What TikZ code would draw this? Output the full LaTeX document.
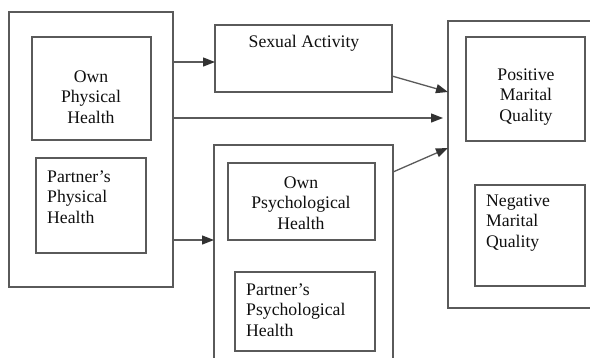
\documentclass[tikz,border=0pt]{standalone}
\usepackage{fontspec}
\setmainfont{Liberation Serif}
\usetikzlibrary{arrows.meta}
\definecolor{linegray}{RGB}{90,90,90}
\definecolor{tipgray}{RGB}{50,50,50}
\definecolor{txt}{RGB}{15,15,15}
\tikzset{
  box/.style={draw=linegray, line width=1.3pt, inner sep=0pt, outer sep=0pt, anchor=north west},
  lbl/.style={text=txt, inner sep=0pt, font=\fontsize{17.7}{20.5}\selectfont},
  arr/.style={draw=linegray, line width=1.3pt, -{Triangle[length=12pt,width=9pt,color=tipgray]}},
}
\begin{document}
\begin{tikzpicture}[x=1pt,y=-1pt]
\useasboundingbox (0,0) rectangle (590,357);
\clip (0,0) rectangle (590,357);
% left outer box
\node[box, minimum width=164pt, minimum height=275pt] (L) at (9,12) {};
\node[box, minimum width=119pt, minimum height=103pt] (oph) at (32,37) {};
\node[box, minimum width=110pt, minimum height=95pt] (pph) at (36,158) {};
\node[lbl, align=center] (ophT) at (91,97) {Own\\Physical\\Health};
\node[lbl, align=left, anchor=west] (pphT) at (47,197) {Partner’s\\Physical\\Health};
% sexual activity
\node[box, minimum width=177pt, minimum height=67pt] (SA) at (215,25) {};
\node[lbl] (saT) at (304,43) {Sexual Activity};
% psychological outer box
\node[box, minimum width=179pt, minimum height=240pt] (P) at (214,145) {};
\node[box, minimum width=147pt, minimum height=77pt] (ops) at (228,163) {};
\node[box, minimum width=140pt, minimum height=79pt] (pps) at (235,272) {};
\node[lbl, align=center] (opsT) at (301,203) {Own\\Psychological\\Health};
\node[lbl, align=left, anchor=west] (ppsT) at (246,310) {Partner’s\\Psychological\\Health};
% right outer box
\node[box, minimum width=160pt, minimum height=287pt] (R) at (448,21) {};
\node[box, minimum width=119pt, minimum height=104pt] (pos) at (466,37) {};
\node[box, minimum width=110pt, minimum height=101pt] (neg) at (475,185) {};
\node[lbl, align=center] (posT) at (526,97) {Positive\\Marital\\Quality};
\node[lbl, align=left, anchor=west] (negT) at (486,223) {Negative\\Marital\\Quality};
% helper coordinates
\coordinate (y1) at (0,62);
\coordinate (y2) at (0,118);
\coordinate (y3) at (0,240);
\coordinate (s1) at (0,76);
\coordinate (t1) at (0,92);
\coordinate (t3) at (0,148);
\coordinate (s3) at (0,172);
% connectors
\draw[arr] (L.east |- y1) -- (SA.west |- y1);
\draw[arr] (L.east |- y3) -- (P.west |- y3);
\draw[arr] (L.east |- y2) -- ([xshift=-5pt]R.west |- y2);
\draw[arr] (SA.east |- s1) -- (R.west |- t1);
\draw[arr] (P.east |- s3) -- (R.west |- t3);
\end{tikzpicture}
\end{document}
